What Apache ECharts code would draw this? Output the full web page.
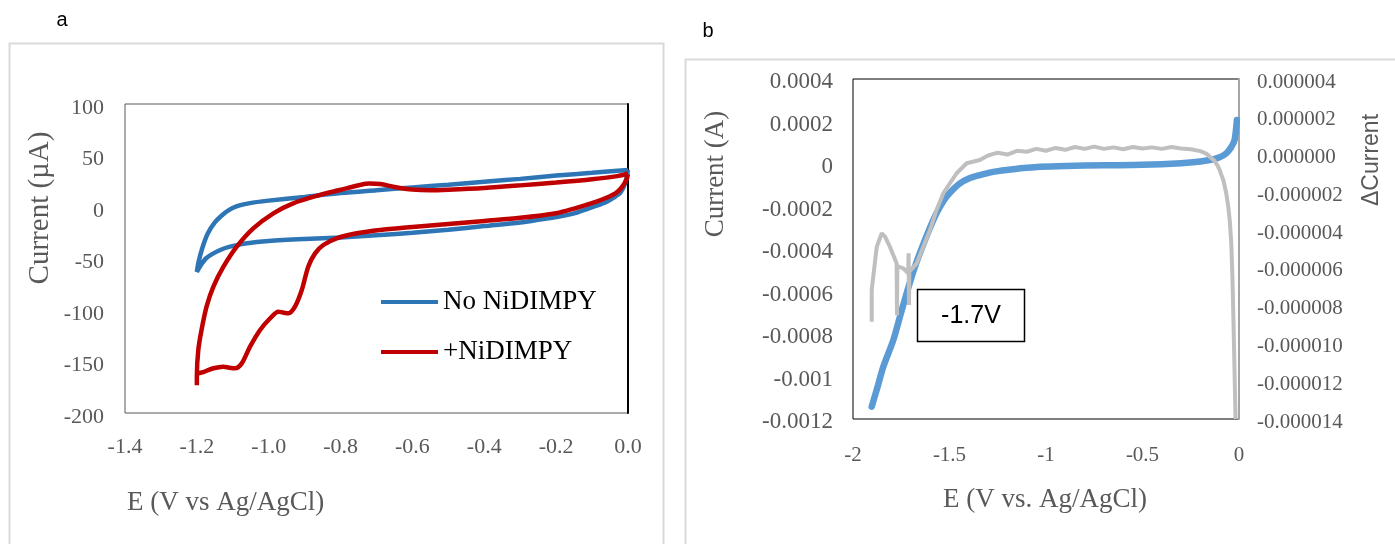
<!DOCTYPE html>
<html><head><meta charset="utf-8">
<script src="https://cdn.jsdelivr.net/npm/echarts@6/dist/echarts.min.js"></script>
<style>html,body{margin:0;padding:0;background:#fff}#c{width:1395px;height:544px}</style>
</head><body><div id="c"></div>
<script>
// ---------- Panel a : cyclic voltammograms (E in V, current in µA) ----------
const aBlueE = [0, -0.1, -0.2, -0.3, -0.4, -0.5, -0.6, -0.7, -0.8, -0.9, -1.0, -1.04, -1.07, -1.09, -1.11, -1.13, -1.15, -1.17, -1.185, -1.195, -1.2,
  -1.19, -1.175, -1.154, -1.13, -1.108, -1.061, -1.0, -0.9, -0.8, -0.69, -0.6, -0.5, -0.4, -0.3, -0.25, -0.2, -0.15, -0.09, -0.06, -0.04, -0.02, -0.008, 0];
const aBlueI = [36, 33.2, 30.5, 27.3, 24.5, 21.7, 19, 16.3, 13.5, 9.8, 6.2, 4.5, 2.6, 0.6, -2.8, -8, -15, -26, -40, -53, -63,
  -57, -50, -45, -41, -38.5, -35.2, -33, -31, -29.5, -27.2, -25, -22, -18.5, -15, -12.5, -9.8, -6.2, 1, 5, 9, 14.5, 23, 36];

const aRedE = [0, -0.005, -0.02, -0.035, -0.06, -0.09, -0.15, -0.2, -0.3, -0.4, -0.5, -0.6, -0.69, -0.755, -0.811, -0.848, -0.871, -0.89, -0.908, -0.927, -0.945, -0.96, -0.973, -0.996, -1.024, -1.052, -1.075, -1.094, -1.11, -1.126, -1.154, -1.18, -1.2, -1.2,
  -1.2, -1.196, -1.187, -1.173, -1.154, -1.126, -1.089, -1.043, -0.987, -0.932, -0.857, -0.802, -0.746, -0.72, -0.69, -0.65, -0.6, -0.55, -0.5, -0.4, -0.3, -0.2, -0.1, -0.03, 0];
const aRedI = [32, 26, 18, 13.3, 9, 5, -1.5, -6, -10.5, -13.5, -16.5, -19.5, -22.3, -25.5, -30.4, -36.9, -45, -58, -80.6, -96.8, -103.2, -102.5, -101.6, -108, -119.4, -135.6, -151.8, -156.6, -156, -155, -156.6, -160, -163, -173,
  -164, -138.8, -119.4, -96.8, -77.4, -58, -38.5, -20.7, -6.1, 3.6, 11.7, 16.5, 21.4, 22.8, 22.3, 19.5, 17, 16.3, 16.8, 18.5, 21, 23.8, 27, 30, 32.5];

// ---------- Panel b : LSV current (A) and ΔCurrent (A) ----------
const bBlueE = [-1.903, -1.87, -1.843, -1.791, -1.757, -1.722, -1.679, -1.627, -1.576, -1.545, -1.515, -1.48, -1.446, -1.4, -1.343, -1.28, -1.204, -1.1, -1.032, -0.9, -0.7, -0.5, -0.3, -0.2, -0.152, -0.1, -0.066, -0.04, -0.023, -0.011];
const bBlueI = [-0.001142, -0.00104, -0.000954, -0.000828, -0.000719, -0.000608, -0.000483, -0.000358, -0.000248, -0.000195, -0.000153, -0.000118, -0.000091, -0.000068, -0.000052, -0.000038, -0.000028, -0.000018, -0.000013, -0.000009, -0.000006, -0.000004, 0.000004, 0.000012, 0.000019, 0.000032, 0.00005, 0.00008, 0.000113, 0.000207];

const bGrayE = [-1.903, -1.903, -1.895, -1.877, -1.851, -1.834, -1.809, -1.774, -1.772, -1.770, -1.74, -1.714, -1.712, -1.710, -1.708, -1.67, -1.636, -1.601, -1.567, -1.532, -1.498, -1.463, -1.411, -1.343,
  -1.3, -1.25, -1.2, -1.15, -1.1, -1.05, -1.0, -0.95, -0.9, -0.85, -0.8, -0.75, -0.7, -0.65, -0.6, -0.55, -0.5, -0.45, -0.4, -0.35, -0.3, -0.25, -0.2, -0.17, -0.152, -0.13, -0.11, -0.1, -0.08, -0.066, -0.055, -0.047, -0.04, -0.034, -0.028, -0.022, -0.018, -0.016];
const bGrayD = [-8.85e-6, -7.17e-6, -6.47e-6, -4.88e-6, -4.17e-6, -4.35e-6, -4.88e-6, -5.76e-6, -8.5e-6, -5.9e-6, -6.02e-6, -6.29e-6, -5.23e-6, -7.96e-6, -6.2e-6, -5.76e-6, -4.88e-6, -3.99e-6, -2.93e-6, -2.05e-6, -1.52e-6, -0.99e-6, -0.46e-6, -0.29e-6,
  -0.05e-6, 0.1e-6, 0.0e-6, 0.2e-6, 0.15e-6, 0.3e-6, 0.2e-6, 0.35e-6, 0.25e-6, 0.4e-6, 0.3e-6, 0.42e-6, 0.3e-6, 0.38e-6, 0.28e-6, 0.4e-6, 0.32e-6, 0.38e-6, 0.3e-6, 0.4e-6, 0.32e-6, 0.28e-6, 0.18e-6, 0.05e-6, -0.11e-6, -0.3e-6, -0.6e-6, -0.82e-6, -1.4e-6, -2.05e-6, -2.8e-6, -3.6e-6, -4.7e-6, -6.5e-6, -9.1e-6, -12e-6, -14e-6, -14e-6];

const zip = (xs, ys, k) => xs.map((x, i) => [x, ys[i] * (k || 1)]);

const SERIF = 'Liberation Serif';
const GREY = '#595959';

const chart = echarts.init(document.getElementById('c'), null, {renderer: 'canvas'});
chart.setOption({
  animation: false,
  backgroundColor: '#fff',
  grid: [
    {left: 125, top: 104, width: 503, height: 309, show: true, borderColor: GREY, borderWidth: 1, backgroundColor: 'transparent', outerBoundsMode: 'none'},
    {left: 853, top: 79, width: 386, height: 340, show: true, borderColor: '#000', borderWidth: 1, backgroundColor: 'transparent', outerBoundsMode: 'none'}
  ],
  xAxis: [
    {gridIndex: 0, type: 'value', min: -1.4, max: 0, interval: 0.2,
      axisLine: {show: false}, axisTick: {show: false}, splitLine: {show: false},
      axisLabel: {margin: 23, color: GREY, fontFamily: SERIF, fontSize: 22,
        formatter: v => Math.abs(v) < 1e-9 ? '0.0' : v.toFixed(1)}},
    {gridIndex: 1, type: 'value', min: -2, max: 0, interval: 0.5,
      axisLine: {show: false}, axisTick: {show: false}, splitLine: {show: false},
      axisLabel: {margin: 26, color: GREY, fontFamily: SERIF, fontSize: 21,
        formatter: v => String(Math.round(v * 10) / 10)}}
  ],
  yAxis: [
    {gridIndex: 0, type: 'value', min: -200, max: 100, interval: 50,
      axisLine: {show: false}, axisTick: {show: false}, splitLine: {show: false},
      axisLabel: {margin: 21, color: GREY, fontFamily: SERIF, fontSize: 22, verticalAlign: 'top', lineHeight: 8}},
    {gridIndex: 0, type: 'value', position: 'right', min: -200, max: 100, interval: 50,
      axisLine: {show: true, lineStyle: {color: '#000', width: 2}}, axisTick: {show: false},
      splitLine: {show: false}, axisLabel: {show: false}},
    {gridIndex: 1, type: 'value', min: -12, max: 4, interval: 2,
      axisLine: {show: false}, axisTick: {show: false}, splitLine: {show: false},
      axisLabel: {margin: 20, color: GREY, fontFamily: SERIF, fontSize: 23, verticalAlign: 'top', lineHeight: 6,
        formatter: v => { const r = Math.round(v); return r === 0 ? '0' : String(parseFloat((r * 1e-4).toFixed(4))); }}},
    {gridIndex: 1, type: 'value', position: 'right', min: -14, max: 4, interval: 2,
      axisLine: {show: true, lineStyle: {color: '#a6a6a6', width: 2}}, axisTick: {show: false},
      splitLine: {show: false},
      axisLabel: {margin: 18, color: GREY, fontFamily: SERIF, fontSize: 21, verticalAlign: 'top', lineHeight: 6,
        formatter: v => (Math.round(v) * 1e-6).toFixed(6)}}
  ],
  legend: {
    left: 376, top: 282, orient: 'vertical', itemWidth: 57, itemHeight: 4, itemGap: 20,
    icon: 'rect', data: ['No NiDIMPY', '+NiDIMPY'],
    textStyle: {fontFamily: SERIF, fontSize: 27, color: '#000', lineHeight: 30}
  },
  series: [
    {name: 'No NiDIMPY', type: 'line', xAxisIndex: 0, yAxisIndex: 0, data: zip(aBlueE, aBlueI),
      showSymbol: false, smooth: 0.3, lineStyle: {color: '#2e75b6', width: 4.5}, itemStyle: {color: '#2e75b6'}},
    {name: '+NiDIMPY', type: 'line', xAxisIndex: 0, yAxisIndex: 0, data: zip(aRedE, aRedI),
      showSymbol: false, smooth: 0.3, lineStyle: {color: '#c00000', width: 4.5}, itemStyle: {color: '#c00000'}},
    {name: 'Current', type: 'line', xAxisIndex: 1, yAxisIndex: 2, data: zip(bBlueE, bBlueI, 1e4),
      showSymbol: false, smooth: 0.3, lineStyle: {color: '#5b9bd5', width: 6.5, cap: 'round'}, itemStyle: {color: '#5b9bd5'}},
    {name: 'ΔCurrent', type: 'line', xAxisIndex: 1, yAxisIndex: 3, data: zip(bGrayE, bGrayD, 1e6),
      showSymbol: false, smooth: false, lineStyle: {color: '#bfbfbf', width: 4}, itemStyle: {color: '#bfbfbf'}}
  ],
  graphic: [
    {type: 'rect', z: -10, shape: {x: 9.5, y: 43.5, width: 654, height: 520}, style: {fill: 'none', stroke: '#d9d9d9', lineWidth: 2}},
    {type: 'rect', z: -10, shape: {x: 685.5, y: 59.5, width: 720, height: 500}, style: {fill: 'none', stroke: '#d9d9d9', lineWidth: 2}},
    {type: 'text', x: 62, y: 20, style: {text: 'a', font: '20px "Liberation Sans"', fill: '#000', textAlign: 'center', textVerticalAlign: 'middle'}},
    {type: 'text', x: 708, y: 31, style: {text: 'b', font: '20px "Liberation Sans"', fill: '#000', textAlign: 'center', textVerticalAlign: 'middle'}},
    {type: 'text', x: 40, y: 208, rotation: Math.PI / 2, style: {text: 'Current (µA)', font: '29px "Liberation Serif"', fill: GREY, textAlign: 'center', textVerticalAlign: 'middle'}},
    {type: 'text', x: 127, y: 503, style: {text: 'E (V vs Ag/AgCl)', font: '27px "Liberation Serif"', fill: GREY, textAlign: 'left', textVerticalAlign: 'middle'}},
    {type: 'text', x: 716, y: 174, rotation: Math.PI / 2, style: {text: 'Current (A)', font: '27px "Liberation Serif"', fill: GREY, textAlign: 'center', textVerticalAlign: 'middle'}},
    {type: 'text', x: 1045, y: 500, style: {text: 'E (V vs. Ag/AgCl)', font: '27px "Liberation Serif"', fill: GREY, textAlign: 'center', textVerticalAlign: 'middle'}},
    {type: 'text', x: 1372, y: 160, rotation: Math.PI / 2, style: {text: 'ΔCurrent', font: '23px "Liberation Sans"', fill: GREY, textAlign: 'center', textVerticalAlign: 'middle'}},
    {type: 'group', z: 100, children: [
      {type: 'rect', shape: {x: 917.5, y: 289.5, width: 107, height: 52}, style: {fill: '#fff', stroke: '#000', lineWidth: 1.5}},
      {type: 'text', x: 971, y: 316, style: {text: '-1.7V', font: '25px "Liberation Sans"', fill: '#000', textAlign: 'center', textVerticalAlign: 'middle'}}
    ]}
  ]
});
</script>
</body></html>
